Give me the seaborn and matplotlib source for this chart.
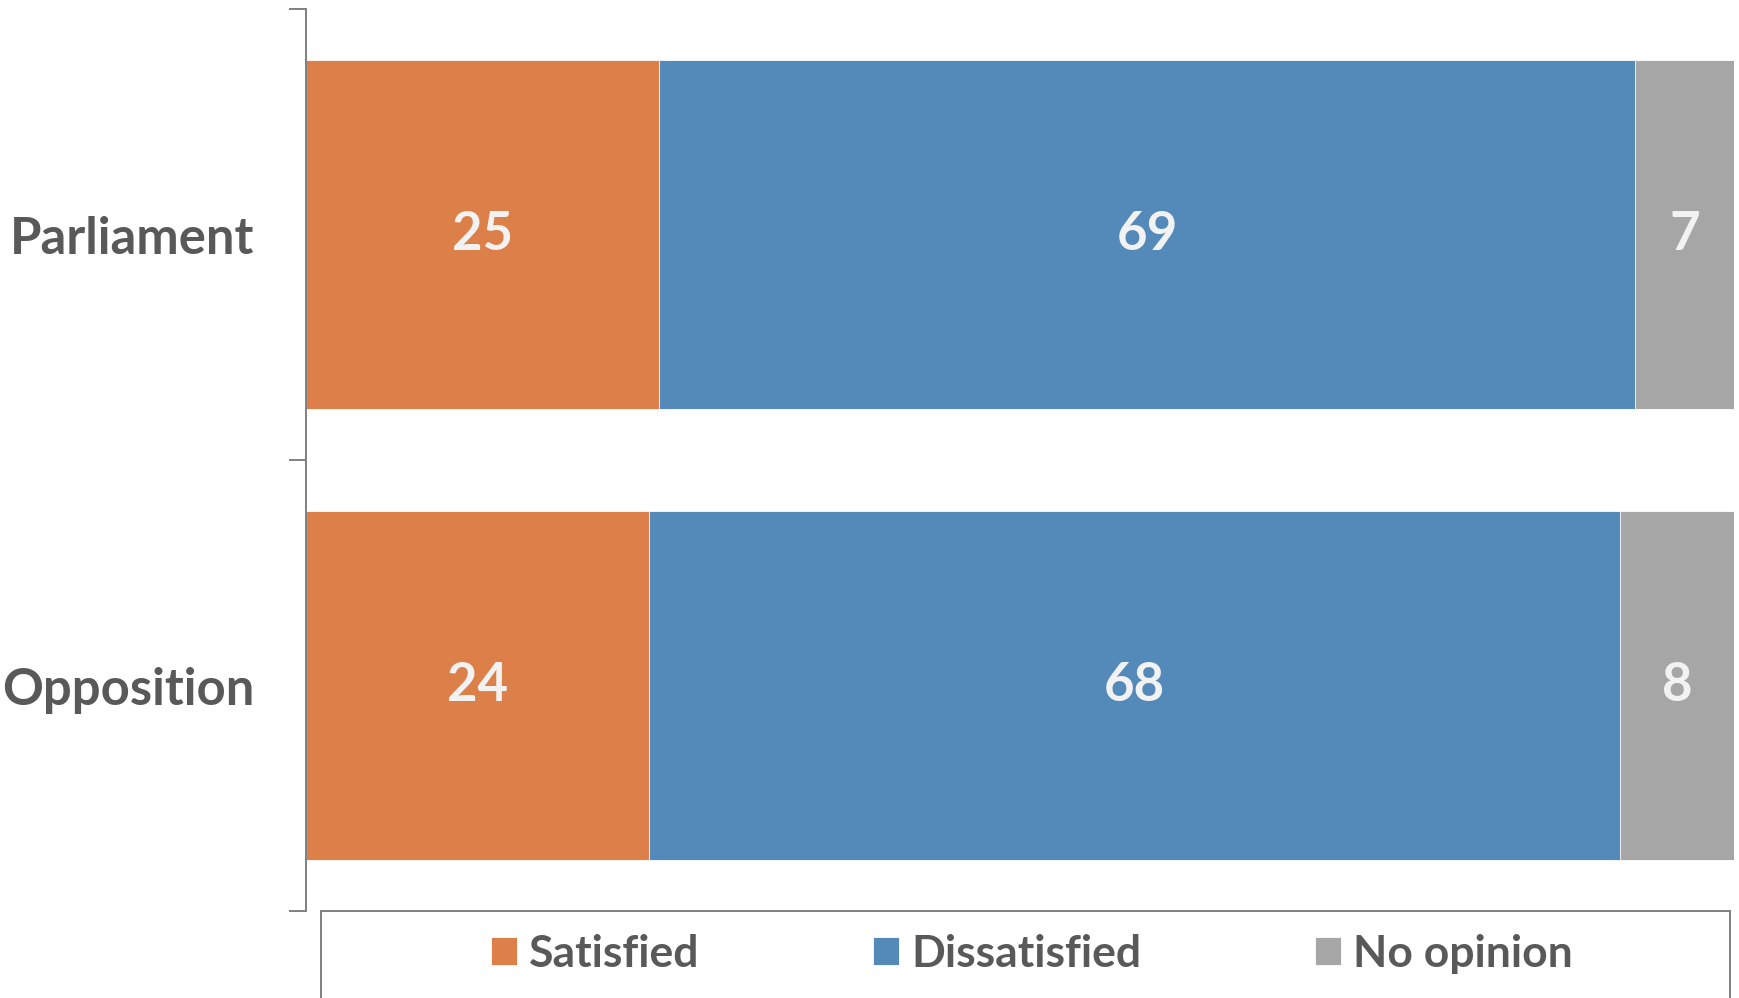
import matplotlib
matplotlib.use("Agg")
import matplotlib.pyplot as plt
import seaborn as sns
import numpy as np
import pandas as pd
from matplotlib.patches import Rectangle

# ---- data ----
categories = ["Parliament", "Opposition"]
satisfied = [25, 24]
dissatisfied = [69, 68]
no_opinion = [7, 8]
series_names = ["Satisfied", "Dissatisfied", "No opinion"]
colors = ["#DD7F48", "#548AB9", "#A6A6A6"]

sns.set_theme(style="white")
plt.rcParams["font.family"] = ["Lato", "DejaVu Sans"]
TXT = "#595959"
AX = "#808080"

vals = np.array([satisfied, dissatisfied, no_opinion], dtype=float)  # 3 x n
totals = vals.sum(axis=0)
pct = vals / totals * 100.0
cum = np.cumsum(pct, axis=0)

df = pd.DataFrame({
    "category": categories,
    "c1": cum[0], "c2": cum[1], "c3": cum[2],
})

fig = plt.figure(figsize=(17.4, 9.98), dpi=100)
ax = fig.add_axes([306/1740, 1-911/998, (1734-306)/1740, (911-9)/998])

bw = 0.774
for col, name, c in [("c3", series_names[2], colors[2]),
                     ("c2", series_names[1], colors[1]),
                     ("c1", series_names[0], colors[0])]:
    sns.barplot(data=df, x=col, y="category", color=c, width=bw, ax=ax,
                label=name, edgecolor="white", linewidth=0.6, saturation=1)

starts = np.vstack([np.zeros(len(categories)), cum[:-1]])
for s in range(3):
    for i in range(len(categories)):
        ax.text(starts[s, i] + pct[s, i] / 2, i, f"{int(vals[s, i])}",
                ha="center", va="center", color="#F2F2F2",
                fontsize=38, fontweight="bold")

ax.set_xlim(0, 100)
ax.set_ylim(len(categories) - 0.5, -0.5)
ax.set_xlabel("")
ax.set_ylabel("")
ax.set_xticks([])
for sp in ["top", "right", "bottom"]:
    ax.spines[sp].set_visible(False)
ax.spines["left"].set_color(AX)
ax.spines["left"].set_linewidth(1.4)

ax.set_yticks(range(len(categories)))
ax.set_yticklabels(categories)
ax.set_yticks(np.arange(-0.5, len(categories), 1.0), minor=True)
ax.tick_params(axis="y", which="major", length=0, pad=37,
               labelsize=36.5, labelcolor=TXT)
ax.tick_params(axis="y", which="minor", left=True, length=12, width=1.4, color=AX)
for t in ax.get_yticklabels():
    t.set_fontweight("bold")

handles, labels = ax.get_legend_handles_labels()
order = [labels.index(n) for n in series_names]
if ax.get_legend() is not None:
    ax.get_legend().remove()
leg = fig.legend([handles[k] for k in order], [labels[k] for k in order],
                 loc="center", bbox_to_anchor=(1032/1740, 1-954/998),
                 ncol=3, frameon=False, fontsize=32,
                 handlelength=0.58, handleheight=0.58, handletextpad=0.28,
                 columnspacing=3.9, labelcolor=TXT)
for t in leg.get_texts():
    t.set_fontweight("bold")
fig.patches.append(Rectangle((321/1740, -0.01), (1730-321)/1740, 1-911/998 + 0.01,
                             transform=fig.transFigure, fill=False,
                             edgecolor=AX, linewidth=1.4))

fig.savefig("out.png", dpi=100, facecolor="white")
